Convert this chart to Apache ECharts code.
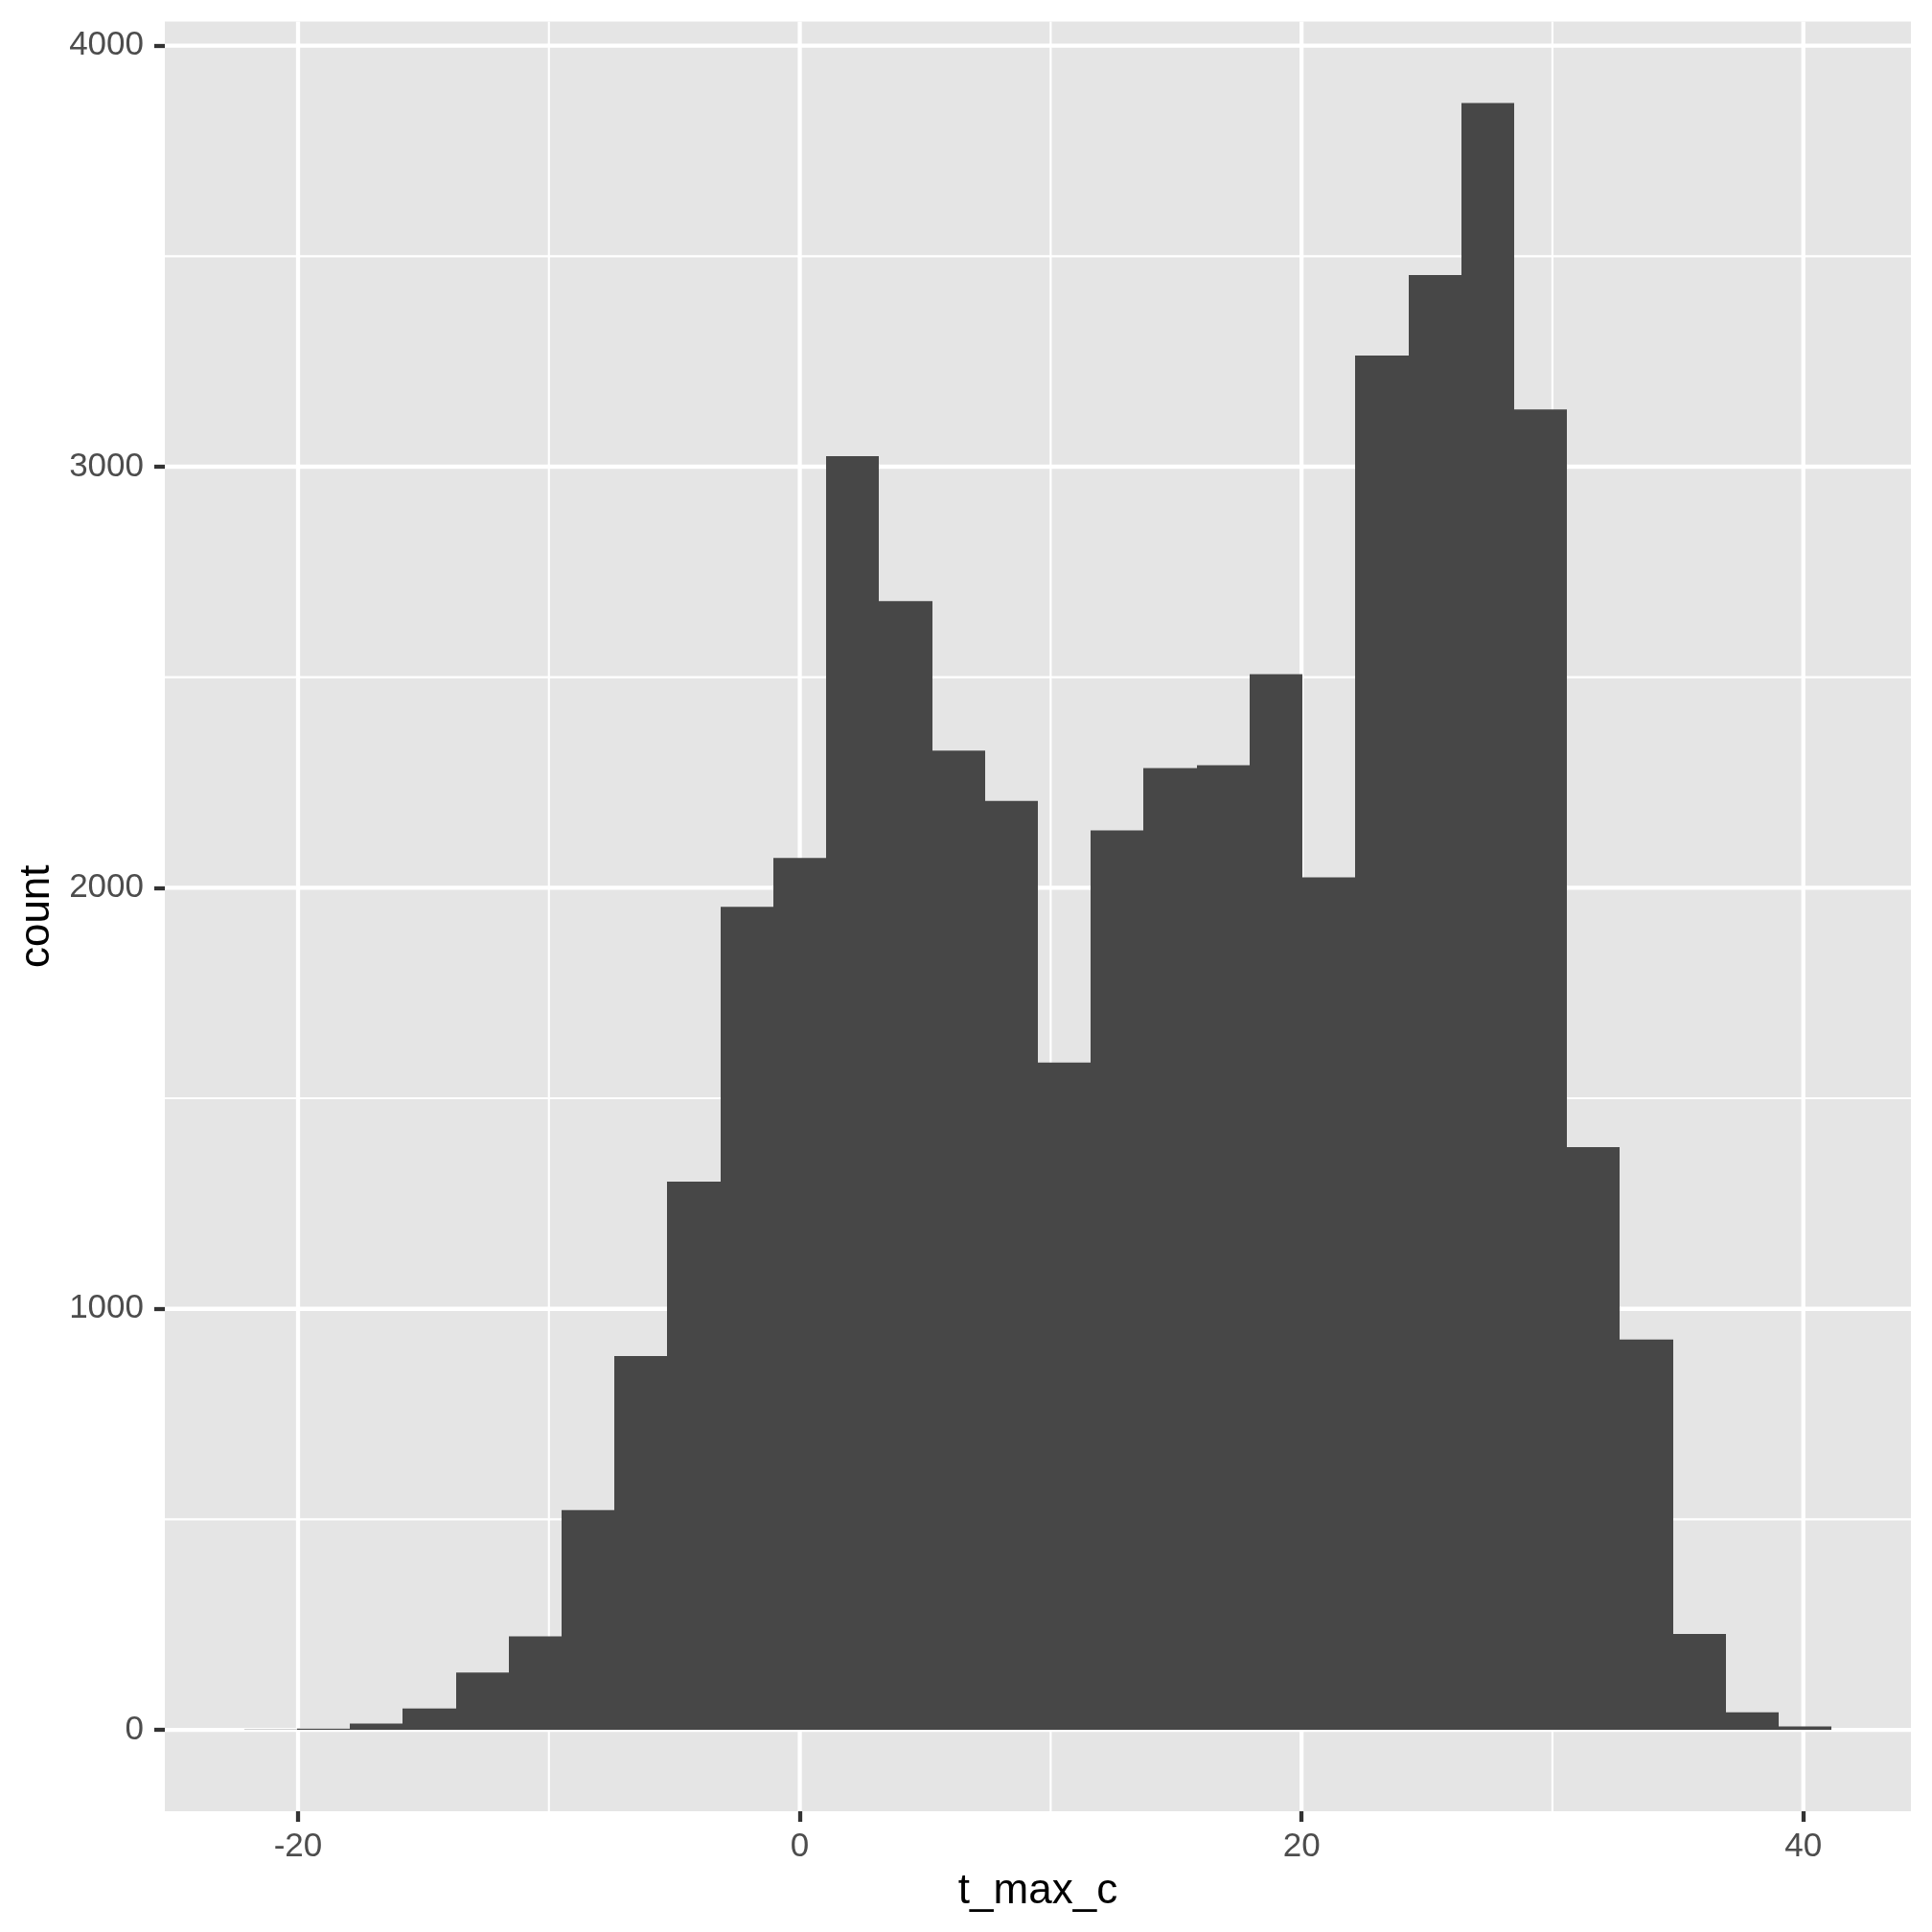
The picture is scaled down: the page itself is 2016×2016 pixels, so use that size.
<!DOCTYPE html>
<html>
<head>
<meta charset="utf-8">
<script src="https://cdn.jsdelivr.net/npm/echarts@6/dist/echarts.min.js"></script>
<style>
html,body{margin:0;padding:0;background:#fff;}
#c{width:2016px;height:2016px;}
</style>
</head>
<body>
<div id="c"></div>
<script>
// Bin centres (°C) and counts (30 bins)
const binCenters = [-21.10, -18.99, -16.88, -14.77, -12.66, -10.55, -8.44, -6.33, -4.22, -2.11,
  0.00, 2.11, 4.22, 6.33, 8.44, 10.54, 12.65, 14.76, 16.87, 18.98,
  21.09, 23.20, 25.31, 27.42, 29.53, 31.64, 33.75, 35.86, 37.97, 40.08];
const counts = [1, 3, 15, 51, 136, 222, 522, 888, 1302, 1955,
  2071, 3025, 2681, 2326, 2206, 1585, 2136, 2284, 2291, 2507,
  2025, 3264, 3455, 3864, 3136, 1384, 927, 228, 42, 8];
const binWidth = 2.109;

const xMajorTicks = [-20, 0, 20, 40];
const xMinorTicks = [-10, 10, 30];
const yMajorTicks = [0, 1000, 2000, 3000, 4000];
const yMinorTicks = [500, 1500, 2500, 3500];

const xMin = -25.31, xMax = 44.29;
const yMin = -193.2, yMax = 4057.2;

const barData = binCenters.map((c, i) => [c, counts[i]]);
const gridData = [];
xMajorTicks.forEach(v => gridData.push([v, 0, 0, 1]));
xMinorTicks.forEach(v => gridData.push([v, 0, 0, 0]));
yMajorTicks.forEach(v => gridData.push([0, v, 1, 1]));
yMinorTicks.forEach(v => gridData.push([0, v, 1, 0]));

const chart = echarts.init(document.getElementById('c'), null, {renderer: 'canvas'});
const FONT = '"Liberation Sans", Arial, Helvetica, sans-serif';

chart.setOption({
  backgroundColor: '#ffffff',
  animation: false,
  grid: {
    left: 172, right: 22, top: 22.5, bottom: 126,
    show: true, backgroundColor: '#E5E5E5', borderWidth: 0
  },
  xAxis: {
    type: 'value', min: xMin, max: xMax,
    name: 't_max_c', nameLocation: 'middle', nameGap: 62,
    nameTextStyle: {fontFamily: FONT, fontSize: 44, color: '#000000'},
    axisLine: {show: true, onZero: false, lineStyle: {color: 'rgba(0,0,0,0)', width: 0}},
    axisTick: {show: true, inside: false, length: 11, customValues: xMajorTicks,
      lineStyle: {color: '#333333', width: 4.27}},
    axisLabel: {show: true, customValues: xMajorTicks, margin: 20,
      fontFamily: FONT, fontSize: 35, color: '#4D4D4D',
      formatter: v => String(v)},
    splitLine: {show: false}
  },
  yAxis: {
    type: 'value', min: yMin, max: yMax,
    name: 'count', nameLocation: 'middle', nameGap: 108, nameRotate: 90,
    nameTextStyle: {fontFamily: FONT, fontSize: 44, color: '#000000'},
    axisLine: {show: true, onZero: false, lineStyle: {color: 'rgba(0,0,0,0)', width: 0}},
    axisTick: {show: true, inside: false, length: 11, customValues: yMajorTicks,
      lineStyle: {color: '#333333', width: 4.27}},
    axisLabel: {show: true, customValues: yMajorTicks, margin: 22,
      fontFamily: FONT, fontSize: 35, color: '#4D4D4D',
      formatter: v => String(v)},
    splitLine: {show: false}
  },
  series: [
    {
      type: 'custom', name: 'grid', silent: true, z: 1,
      data: gridData,
      encode: {x: 0, y: 1},
      renderItem: function (params, api) {
        const cs = params.coordSys;
        const isH = api.value(2) === 1;
        const major = api.value(3) === 1;
        const w = major ? 4.27 : 2.13;
        if (isH) {
          const p = api.coord([xMin, api.value(1)]);
          return {type: 'line', shape: {x1: cs.x, y1: p[1], x2: cs.x + cs.width, y2: p[1]},
            style: {stroke: '#ffffff', lineWidth: w}};
        } else {
          const p = api.coord([api.value(0), yMin]);
          return {type: 'line', shape: {x1: p[0], y1: cs.y, x2: p[0], y2: cs.y + cs.height},
            style: {stroke: '#ffffff', lineWidth: w}};
        }
      }
    },
    {
      type: 'custom', name: 'count', z: 2,
      data: barData,
      encode: {x: 0, y: 1},
      renderItem: function (params, api) {
        const c = api.value(0), n = api.value(1);
        const p0 = api.coord([c - binWidth / 2, 0]);
        const p1 = api.coord([c + binWidth / 2, n]);
        const x0 = Math.round(p0[0]), x1 = Math.round(p1[0]);
        return {type: 'rect',
          shape: {x: x0, y: p1[1], width: x1 - x0, height: p0[1] - p1[1]},
          style: {fill: '#474747'}};
      }
    }
  ]
});
</script>
</body>
</html>
